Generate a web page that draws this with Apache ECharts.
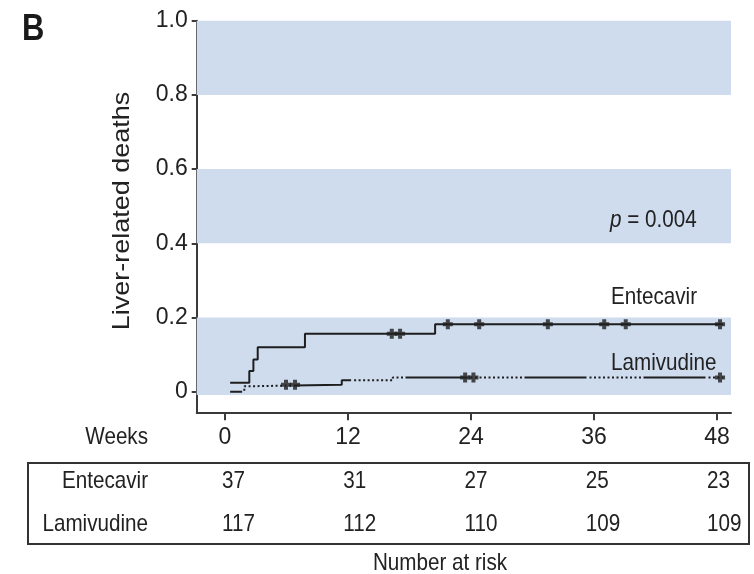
<!DOCTYPE html>
<html>
<head>
<meta charset="utf-8">
<script src="https://cdn.jsdelivr.net/npm/echarts@6/dist/echarts.min.js"></script>
<style>html,body{margin:0;padding:0;background:#fff}#c{width:754px;height:574px}</style>
</head>
<body>
<div id="c"></div>
<script>
// ---- data ----
const weekTicks = [0, 12, 24, 36, 48];
const weekTickLabels = ['0', '12', '24', '36', '48'];
const yTicks = [0, 0.2, 0.4, 0.6, 0.8, 1.0];
const yTickLabels = ['0', '0.2', '0.4', '0.6', '0.8', '1.0'];
const entecavirSteps = [[0.5, 0.024], [2.37, 0.056], [2.77, 0.087], [3.19, 0.12], [7.8, 0.156], [20.5, 0.182], [48.6, 0.182]];
const entecavirCensored = [[16.27, 0.156], [17.08, 0.156], [21.74, 0.182], [24.8, 0.182], [31.5, 0.182], [37.0, 0.182], [39.1, 0.182], [48.3, 0.182]];
const lamivudineSteps = [[0.5, 0], [1.88, 0.015], [3.09, 0.019], [11.39, 0.031], [16.37, 0.038], [48.6, 0.038]];
const lamivudineCensored = [[5.95, 0.019], [6.83, 0.019], [23.43, 0.038], [24.24, 0.038], [48.3, 0.038]];
const bands = [[-0.009, 0.2], [0.4, 0.6], [0.8, 1.0]];
const riskGroups = ['Entecavir', 'Lamivudine'];
const riskEntecavir = [37, 31, 27, 25, 23];
const riskLamivudine = [117, 112, 110, 109, 109];
const yAxisTitle = 'Liver-related deaths';

// ---- chart ----
const SANS = "'Liberation Sans', Arial, sans-serif";
const TXT = '#222';
const AX = '#3a3a3a';
const SX = 0.86; // horizontal compression of the reference typography
const XMIN = -2.763, XMAX = 49.37, YMIN = -0.0555, YMAX = 1.0;
const cross = 'path://M3,0H7V3H10V7H7V10H3V7H0V3H3Z';

const chart = echarts.init(document.getElementById('c'), null, {renderer: 'canvas'});
chart.setOption({
  animation: false,
  backgroundColor: '#fff',
  grid: {left: 196.7, right: 23, top: 20.7, bottom: 161.7, containLabel: false},
  xAxis: {
    type: 'value', min: XMIN, max: XMAX,
    axisLine: {show: true, onZero: false, lineStyle: {color: AX, width: 2}},
    axisTick: {show: true, customValues: weekTicks, length: 8, lineStyle: {color: AX, width: 2}},
    axisLabel: {show: true, customValues: weekTicks, margin: 13, fontSize: 23, lineHeight: 24,
      fontFamily: SANS, color: TXT,
      formatter: v => weekTickLabels[weekTicks.indexOf(v)] ?? ''},
    splitLine: {show: false}
  },
  yAxis: {
    type: 'value', min: YMIN, max: YMAX,
    axisLine: {show: true, onZero: false, lineStyle: {color: AX, width: 2}},
    axisTick: {show: true, customValues: yTicks, length: 5, lineStyle: {color: AX, width: 2}},
    axisLabel: {show: true, customValues: yTicks, margin: 9, fontSize: 23, fontFamily: SANS, color: TXT,
      formatter: v => yTickLabels[yTicks.findIndex(t => Math.abs(t - v) < 1e-9)] ?? ''},
    splitLine: {show: false}
  },
  series: [
    {
      type: 'line', data: [], silent: true, z: 1,
      markArea: {
        silent: true,
        itemStyle: {color: '#cfdcee'},
        data: bands.map(b => [{xAxis: XMIN, yAxis: b[0]}, {xAxis: XMAX, yAxis: b[1]}])
      }
    },
    {
      name: 'Entecavir', type: 'line', step: 'end', data: entecavirSteps, showSymbol: false, z: 3,
      lineStyle: {color: '#1e1e1e', width: 2}
    },
    {
      name: 'Entecavir censored', type: 'scatter', data: entecavirCensored, symbol: cross, symbolSize: 10, z: 4,
      itemStyle: {color: '#1e1e1e'}
    },
    {
      name: 'Lamivudine', type: 'line', step: 'end', data: lamivudineSteps, showSymbol: false, z: 3,
      lineStyle: {color: '#1e1e1e', width: 2, dashOffset: 50,
        type: [62, 3, 2, 2.5, 2, 2.5, 2, 2.5, 2, 2.5, 2, 2.5, 2, 2.5, 2, 2.5, 2, 2.5, 2, 2.5, 2, 2.5, 2, 2.5, 2, 2.5]}
    },
    {
      name: 'Lamivudine censored', type: 'scatter', data: lamivudineCensored, symbol: cross, symbolSize: 10, z: 4,
      itemStyle: {color: '#1e1e1e'}
    }
  ]
});

// ---- annotations and number-at-risk table ----
const px = w => chart.convertToPixel({xAxisIndex: 0}, w);
const T = (text, x, y, align, extra, el) => Object.assign({
  type: 'text', x, y, z: 100, silent: true, scaleX: SX,
  style: Object.assign({text, fill: TXT, font: '24px ' + SANS, align, verticalAlign: 'middle'}, extra || {})
}, el || {});
const g = [];
g.push(T('B', 22, 30, 'left', {font: 'bold 36px ' + SANS, fill: '#1a1a1a'}));
g.push(T(yAxisTitle, 123, 211, 'center', {font: '27px ' + SANS}, {rotation: Math.PI / 2, scaleX: 1, scaleY: SX}));
g.push({type: 'text', x: 610, y: 220, z: 100, silent: true, scaleX: SX, style: {
  rich: {i: {fontStyle: 'italic', fontSize: 24, fontFamily: SANS, fill: TXT}, n: {fontSize: 24, fontFamily: SANS, fill: TXT}},
  text: '{i|p}{n| = 0.004}', verticalAlign: 'middle', align: 'left'}});
g.push(T('Entecavir', 611, 297, 'left'));
g.push(T('Lamivudine', 611, 363, 'left'));
g.push(T('Weeks', 148, 437, 'right'));
g.push({type: 'rect', z: 100, silent: true, shape: {x: 28, y: 463, width: 721, height: 81},
  style: {fill: 'none', stroke: '#333', lineWidth: 2}});
const rowY = [481, 524];
g.push(T(riskGroups[0], 148, rowY[0], 'right'));
g.push(T(riskGroups[1], 148, rowY[1], 'right'));
weekTicks.forEach((w, k) => {
  const left = px(w) - 3 - 1.75 * k;
  g.push(T(String(riskEntecavir[k]), left, rowY[0], 'left'));
  g.push(T(String(riskLamivudine[k]), left, rowY[1], 'left'));
});
g.push(T('Number at risk', 440, 563, 'center'));
chart.setOption({graphic: g});
</script>
</body>
</html>
